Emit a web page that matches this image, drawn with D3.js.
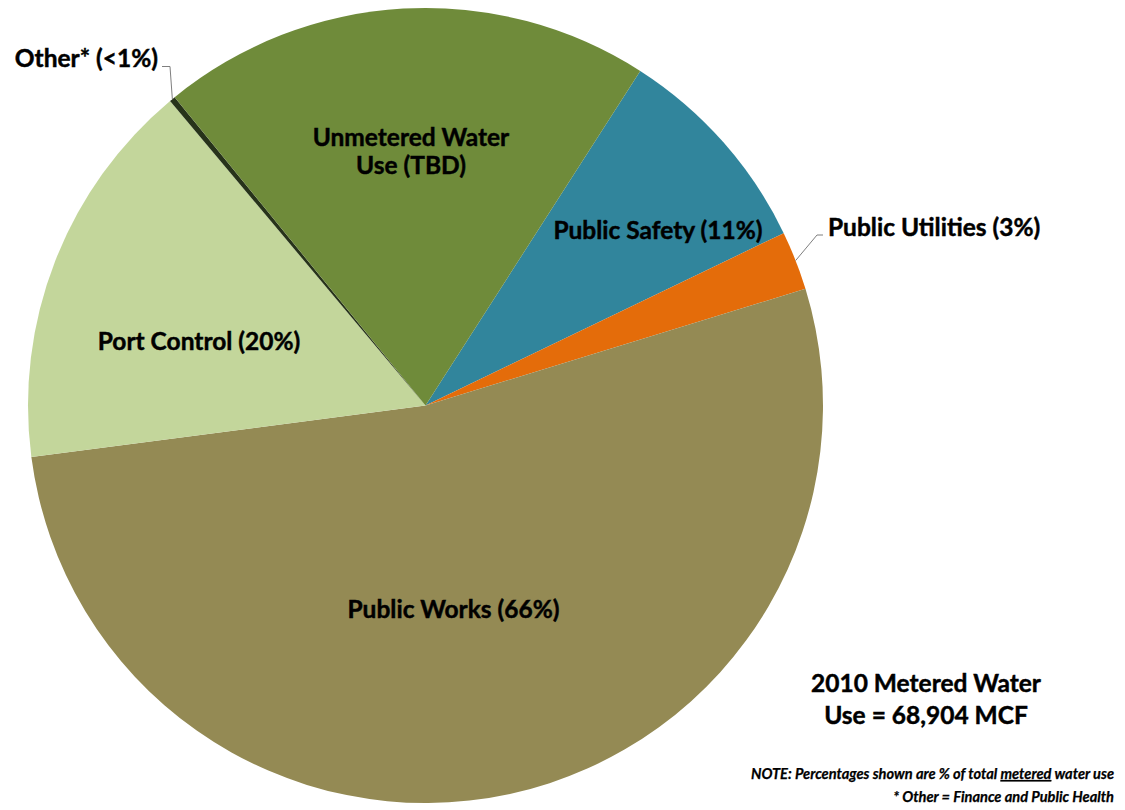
<!DOCTYPE html>
<html>
<head>
<meta charset="utf-8">
<script src="https://cdn.jsdelivr.net/npm/d3@7"></script>
<style>
  html, body { margin: 0; padding: 0; background: #ffffff; }
  svg { display: block; font-family: Lato, "Open Sans", "DejaVu Sans", sans-serif; }
</style>
</head>
<body>
<svg id="chart" width="1125" height="810"></svg>
<script>
// Slices in clockwise order, beginning with Public Safety
const categories = ["Public Safety", "Public Utilities", "Public Works", "Port Control", "Other*", "Unmetered Water Use"];
// Percent of metered use; unmetered use is drawn at its estimated size relative to metered use
const values = [11, 3, 66, 20, 0.3, 25];
const sliceLabels = [
  ["Public Safety (11%)"],
  ["Public Utilities (3%)"],
  ["Public Works (66%)"],
  ["Port Control (20%)"],
  ["Other* (<1%)"],
  ["Unmetered Water", "Use (TBD)"]
];
const colors = ["#31859C", "#E46C0A", "#948A54", "#C3D69B", "#27331A", "#6F8B3A"];
const totalLines = ["2010 Metered Water", "Use = 68,904 MCF"];
const noteLine1 = ["NOTE: Percentages shown are % of total ", "metered", " water use"];
const noteLine2 = "* Other = Finance and Public Health";

// ---- layout ----
const W = 1125, H = 810;
const cx = 425.5, cy = 405.5, R = 397.5;
const start = 32.7 * Math.PI / 180;

// label placement per slice: x, first baseline, anchor, optional leader elbow
const labelLayout = [
  { x: 658, y: 239, anchor: "middle" },
  { x: 828, y: 236, anchor: "start", leader: [[823, 235], [817, 235]] },
  { x: 453.5, y: 618, anchor: "middle" },
  { x: 199, y: 350, anchor: "middle" },
  { x: 158, y: 67, anchor: "end", leader: [[162, 66.5], [170, 66.5]] },
  { x: 411, y: 146, anchor: "middle" }
];
const lineGap = 28;
const labelFont = 24.5;
const noteFont = 14.6;

const svg = d3.select("#chart");
const g = svg.append("g").attr("transform", `translate(${cx},${cy})`);

const pie = d3.pie().sort(null).value(d => d)
  .startAngle(start).endAngle(start + 2 * Math.PI);
const arcs = pie(values);
const arc = d3.arc().innerRadius(0).outerRadius(R);

const color = d3.scaleOrdinal().domain(categories).range(colors);

g.selectAll("path.slice")
  .data(arcs)
  .join("path")
  .attr("class", "slice")
  .attr("d", arc)
  .attr("fill", (d, i) => color(categories[i]));

// leader lines run from the label to the slice edge at its mid angle
arcs.forEach((d, i) => {
  const L = labelLayout[i];
  if (!L.leader) return;
  const mid = (d.startAngle + d.endAngle) / 2;
  const edge = [cx + R * Math.sin(mid), cy - R * Math.cos(mid)];
  svg.append("path")
    .attr("d", d3.line()([...L.leader, edge]))
    .attr("fill", "none")
    .attr("stroke", "#7f7f7f")
    .attr("stroke-width", 1);
});

// bold text with a hairline outline to give it a heavier weight
function heavy(sel, size) {
  return sel.attr("font-weight", 700)
    .attr("font-size", size)
    .attr("fill", "#000")
    .attr("stroke", "#000")
    .attr("stroke-width", 0.45);
}

// slice labels
sliceLabels.forEach((lines, i) => {
  const L = labelLayout[i];
  const t = heavy(svg.append("text").attr("text-anchor", L.anchor), labelFont);
  lines.forEach((s, k) => {
    t.append("tspan").attr("x", L.x).attr("y", L.y + k * lineGap).text(s);
  });
});

// total metered use
const tot = heavy(svg.append("text").attr("text-anchor", "middle"), labelFont);
totalLines.forEach((s, k) => {
  tot.append("tspan").attr("x", 926).attr("y", 692 + k * 32).text(s);
});

// footnotes
const n1 = heavy(svg.append("text"), noteFont)
  .attr("x", 1114).attr("y", 779)
  .attr("text-anchor", "end")
  .attr("font-style", "italic")
  .attr("stroke-width", 0.25);
noteLine1.forEach((s, k) => {
  const sp = n1.append("tspan").text(s);
  if (k === 1) sp.attr("text-decoration", "underline");
});
heavy(svg.append("text"), noteFont)
  .attr("x", 1114).attr("y", 802)
  .attr("text-anchor", "end")
  .attr("font-style", "italic")
  .attr("stroke-width", 0.25)
  .text(noteLine2);
</script>
</body>
</html>
